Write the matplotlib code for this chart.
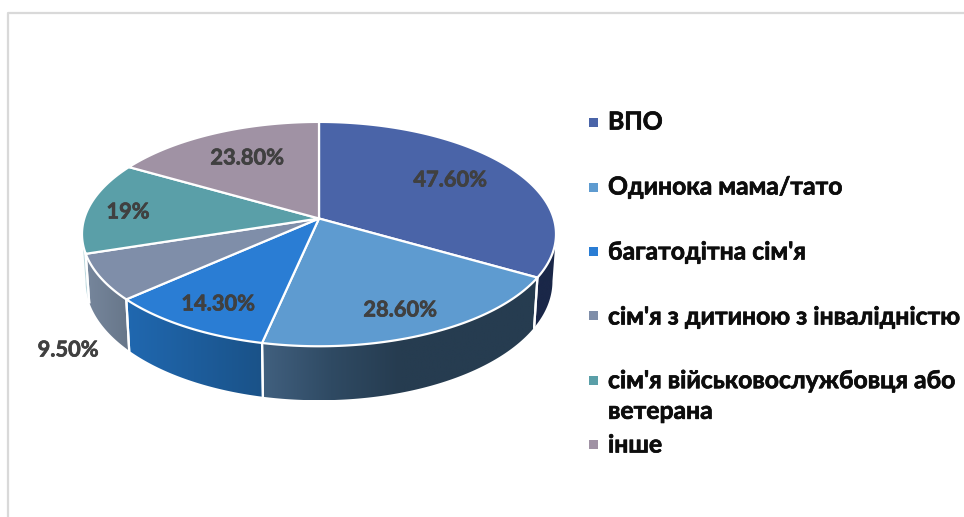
import numpy as np
import matplotlib
matplotlib.use("Agg")
import matplotlib.pyplot as plt
import matplotlib.patheffects as pe
from matplotlib.colors import LinearSegmentedColormap
from matplotlib.patches import Polygon

plt.rcParams['font.family'] = ['Lato', 'Open Sans', 'DejaVu Sans']

names = ["ВПО", "Одинока мама/тато", "багатодітна сім'я",
         "сім'я з дитиною з інвалідністю",
         "сім'я військовослужбовця або\nветерана", "інше"]
values = [47.6, 28.6, 14.3, 9.5, 19, 23.8]
value_labels = ["47.60%", "28.60%", "14.30%", "9.50%", "19%", "23.80%"]

top_colors = ['#4a64a8', '#5e9bd0', '#2a7dd4', '#7f8ea9', '#5a9fa8', '#a092a4']
# color del lado de izquierda a derecha
side_colors = [['#1a2748', '#1a2748'],
               ['#41607f', '#2f4a63', '#263c50', '#263c50', '#263c50'],
               ['#2068b0', '#1a5288'],
               ['#76869c', '#677689'],
               ['#bcd9de', '#bcd9de'],
               ['#ffffff', '#ffffff']]

cx, cy = 319, 218.5
a, b, k = 110, 234.7, 0.139
label_xy = [(450, 180), (400, 310), (218, 304), (68, 350), (128, 212), (247, 158)]
legend_y = [122, 187, 252, 317, 396, 445]
marker_y = [122, 187, 251, 315, 380, 444]


def top_edge(theta):
    # circulo en perspectiva, theta en grados desde arriba en sentido horario
    u, v = np.sin(np.radians(theta)), np.cos(np.radians(theta))
    w = 1 + k * v
    return cx + b * u / w, cy - a * v / w


def bottom_edge(theta):
    x, y = top_edge(theta)
    v = np.cos(np.radians(theta))
    return cx + (x - cx) * 0.985, y + 46 - 8 * v


fig = plt.figure(figsize=(9.64, 5.17), dpi=100)
ax = fig.add_axes([0, 0, 1, 1])
ax.axis('off')

# marco
ax.plot([7.5, 7.5, 964], [517, 12.5, 12.5], color='#d9d9d9', lw=1.6)

ang = np.concatenate([[0], np.cumsum(values)]) / np.sum(values) * 360

# lados
grad = np.linspace(0, 1, 256).reshape(1, -1)
for i in range(len(values)):
    t0, t1 = max(ang[i], 98), min(ang[i + 1], 262)
    if t1 <= t0:
        continue
    th = np.linspace(t0, t1, 100)
    xt, yt = top_edge(th)
    xb, yb = bottom_edge(th)
    poly = np.c_[np.r_[xt, xb[::-1]], np.r_[yt, yb[::-1]]]
    cmap = LinearSegmentedColormap.from_list('lado', side_colors[i])
    im = ax.imshow(grad, cmap=cmap, aspect='auto', zorder=2, interpolation='bilinear',
                   extent=[poly[:, 0].min(), poly[:, 0].max(), poly[:, 1].max(), poly[:, 1].min()])
    patch = Polygon(poly, closed=True, transform=ax.transData, fc='none', ec='none')
    ax.add_patch(patch)
    im.set_clip_path(patch)
    for t in (t0, t1):
        if t in ang:
            x0, y0 = top_edge(t)
            x1, y1 = bottom_edge(t)
            ax.plot([x0, x1], [y0, y1], color='white', lw=1.6, zorder=3)

# cara superior
for i in range(len(values)):
    th = np.linspace(ang[i], ang[i + 1], 120)
    xs, ys = top_edge(th)
    ax.fill(np.r_[cx, xs], np.r_[cy, ys], facecolor=top_colors[i],
            edgecolor='white', lw=1.6, joinstyle='round', zorder=4)

for txt, (x, y) in zip(value_labels, label_xy):
    ax.text(x, y, txt, ha='center', va='center', fontsize=15.7, fontweight='bold',
            color='#404040', zorder=5, path_effects=[pe.withStroke(linewidth=0.5, foreground='#404040')])

# leyenda
for i in range(len(names)):
    ax.fill([589, 598, 598, 589],
            [marker_y[i] - 4.5, marker_y[i] - 4.5, marker_y[i] + 4.5, marker_y[i] + 4.5],
            color=top_colors[i], lw=0)
    ax.text(608, legend_y[i], names[i], ha='left', va='center', fontsize=17.8,
            fontweight='bold', color='#0d0d0d', linespacing=1.4,
            path_effects=[pe.withStroke(linewidth=0.5, foreground='#0d0d0d')])

ax.set_xlim(0, 964)
ax.set_ylim(517, 0)
fig.savefig('out.png', dpi=100)
